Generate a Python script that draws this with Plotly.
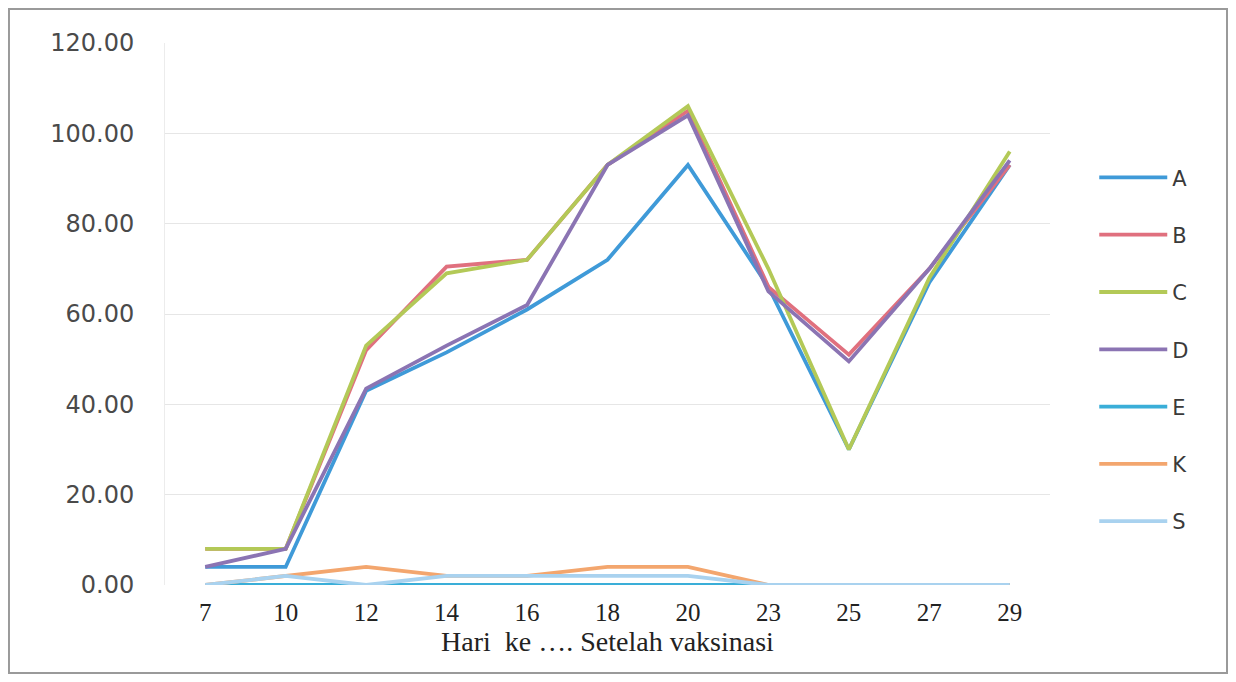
import plotly.graph_objects as go

days = ["7", "10", "12", "14", "16", "18", "20", "23", "25", "27", "29"]

series_names = ["A", "B", "C", "D", "E", "K", "S"]
A = [4, 4, 43, 51.5, 61, 72, 93, 66, 30, 67, 93]
B = [8, 8, 52, 70.5, 72, 93, 105, 66, 51, 70, 93]
C = [8, 8, 53, 69, 72, 93, 106, 70, 30, 68, 96]
D = [4, 8, 43.5, 53, 62, 93, 104, 65, 49.5, 70, 94]
E = [0, 0, 0, 0, 0, 0, 0, 0, 0, 0, 0]
K = [0, 2, 4, 2, 2, 4, 4, 0, 0, 0, 0]
S = [0, 2, 0, 2, 2, 2, 2, 0, 0, 0, 0]
values = [A, B, C, D, E, K, S]

colors = ["#3f9ad8", "#e0707e", "#b3c957", "#8b74b3", "#3aaed8", "#f3a66e", "#a9d2ef"]

fig = go.Figure()
for name, vals, col in zip(series_names, values, colors):
    fig.add_trace(go.Scatter(
        x=days, y=vals, name=name, mode="lines",
        line=dict(color=col, width=3.8),
        legendgroup=name,
    ))

fig.update_layout(
    width=1220, height=666,
    margin=dict(l=157, r=178, t=35, b=89),
    paper_bgcolor="white", plot_bgcolor="white",
    showlegend=True,
    legend=dict(
        x=1.05, y=0.434, xanchor="left", yanchor="middle",
        font=dict(family="DejaVu Sans, sans-serif", size=21, color="#3a3a3a"),
        itemwidth=68, tracegroupgap=27,
        bgcolor="rgba(0,0,0,0)",
    ),
    xaxis=dict(
        type="category", range=[-0.5, 10.5],
        tickfont=dict(family="Liberation Serif, serif", size=25, color="#222222"),
        showgrid=False, showline=False, zeroline=False,
        ticks="", ticklabelstandoff=10,
        title=dict(text="Hari  ke …. Setelah vaksinasi",
                   font=dict(family="Liberation Serif, serif", size=28, color="#222222"),
                   standoff=1),
    ),
    yaxis=dict(
        range=[0, 120], dtick=20, tickformat=".2f",
        tickfont=dict(family="DejaVu Sans, sans-serif", size=24, color="#4a4a4a"),
        showgrid=True, gridcolor="#e6e6e6", gridwidth=1,
        zeroline=False, showline=True, linecolor="#ececec", linewidth=1,
        ticks="", ticklabelstandoff=25,
    ),
    shapes=[dict(
        type="rect", xref="paper", yref="paper",
        x0=-0.1763, x1=1.2, y0=-0.1624, y1=1.0627,
        line=dict(color="#9a9a9a", width=2), fillcolor="rgba(0,0,0,0)", layer="below",
    )],
)

fig.write_html("out.html")
